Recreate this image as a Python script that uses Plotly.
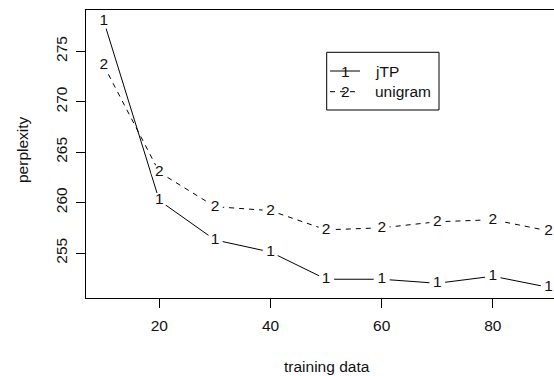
import plotly.graph_objects as go

# ---- data ----
training = [10, 20, 30, 40, 50, 60, 70, 80, 90]
jtp = [278.0, 260.2, 256.3, 255.1, 252.4, 252.4, 252.0, 252.7, 251.6]
unigram = [273.6, 263.0, 259.6, 259.2, 257.3, 257.5, 258.1, 258.3, 257.2]
series_names = ["jTP", "unigram"]
series_chars = ["1", "2"]
x_ticks = [20, 40, 60, 80]
y_ticks = [255, 260, 265, 270, 275]

W, H = 554, 376
L, T, R_, B = 86, 10, 554, 298
FONT = "Liberation Sans, Arial, Helvetica, sans-serif"
FS = 15.5

def px_x(p):
    return (p - L) / (R_ - L)

def px_y(p):
    return (B - p) / (B - T)

fig = go.Figure()
for ys, ch, dash in [(jtp, series_chars[0], "solid"), (unigram, series_chars[1], "5px,5px")]:
    fig.add_trace(go.Scatter(
        x=training, y=ys, mode="lines+markers+text",
        text=[ch] * len(training), textposition="middle center",
        line=dict(color="black", width=1, dash=dash),
        marker=dict(size=16, color="white", line=dict(width=0)),
        textfont=dict(family=FONT, size=FS, color="#111"),
        showlegend=False, cliponaxis=False, hoverinfo="skip",
    ))

fig.update_layout(
    width=W, height=H,
    margin=dict(l=L, r=W - R_, t=T, b=H - B, pad=0),
    paper_bgcolor="white", plot_bgcolor="white",
    font=dict(family=FONT, size=FS, color="#111"),
    xaxis=dict(range=[6.8, 91.0], tickvals=x_ticks, ticks="outside", ticklen=9,
               tickcolor="black", showline=True, linecolor="black", linewidth=1,
               mirror=True, showgrid=False, zeroline=False, ticklabelstandoff=4,
               tickfont=dict(family=FONT, size=FS)),
    yaxis=dict(range=[250.54, 279.1], tickvals=y_ticks, ticks="outside", ticklen=9,
               tickcolor="black", showline=True, linecolor="black", linewidth=1,
               mirror=False, showgrid=False, zeroline=False, tickangle=-90,
               ticklabelstandoff=3, tickfont=dict(family=FONT, size=FS)),
    showlegend=False,
)

# legend box
shapes = [dict(type="rect", xref="paper", yref="paper",
               x0=px_x(326.7), x1=px_x(439), y0=px_y(110), y1=px_y(52.3),
               line=dict(color="black", width=1), fillcolor="white", layer="above")]
rows = [71, 91.7]
dashes = ["solid", "5px,5px"]
annotations = []
for i in range(2):
    shapes.append(dict(type="line", xref="paper", yref="paper",
                       x0=px_x(330), x1=px_x(360), y0=px_y(rows[i]), y1=px_y(rows[i]),
                       line=dict(color="black", width=1, dash=dashes[i]), layer="above"))
    annotations.append(dict(xref="paper", yref="paper", x=px_x(345), y=px_y(rows[i]),
                            text=series_chars[i], showarrow=False,
                            xanchor="center", yanchor="middle",
                            font=dict(family=FONT, size=FS, color="#111")))
    annotations.append(dict(xref="paper", yref="paper", x=px_x(373), y=px_y(rows[i]),
                            text=series_names[i], showarrow=False,
                            xanchor="left", yanchor="middle",
                            font=dict(family=FONT, size=FS, color="#111")))

annotations.append(dict(xref="paper", yref="paper", x=px_x(327), y=px_y(366.7),
                        text="training data", showarrow=False, xanchor="center",
                        yanchor="middle", font=dict(family=FONT, size=FS, color="#111")))
annotations.append(dict(xref="paper", yref="paper", x=px_x(22), y=px_y(150),
                        text="perplexity", showarrow=False, xanchor="center",
                        yanchor="middle", textangle=-90,
                        font=dict(family=FONT, size=FS, color="#111")))

fig.update_layout(shapes=shapes, annotations=annotations)
fig.write_html("out.html", config={"displayModeBar": False},
               post_script="document.body.style.margin='0';document.body.style.overflow='hidden';")
